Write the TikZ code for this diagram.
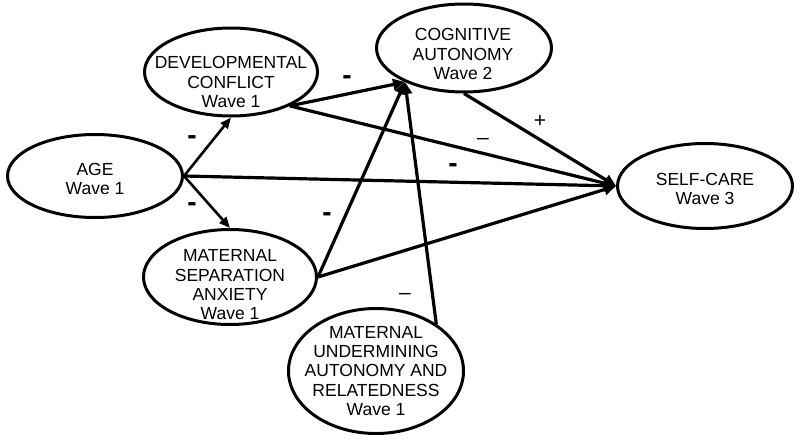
\documentclass[tikz,border=0pt]{standalone}
\usepackage{fontspec}
\setmainfont{Liberation Sans}
\usetikzlibrary{arrows.meta,shapes.geometric}
\begin{document}
\begin{tikzpicture}[x=1pt,y=-1pt,
  blob/.style={ellipse,draw,line width=3pt,inner sep=0pt},
  txt/.style={align=center,font=\fontsize{17.5}{19.3}\selectfont,inner sep=0pt},
  link/.style={line width=3.2pt,-{Triangle[length=12pt,width=11pt]}},
  thinlink/.style={line width=2.6pt,-{Triangle[length=11pt,width=9pt]}},
  bolddash/.style={font=\fontsize{28}{28}\selectfont\bfseries,inner sep=0pt},
  sign/.style={font=\fontsize{21}{21}\selectfont,inner sep=0pt}]
\path[use as bounding box] (0,0) rectangle (800,442);
% ellipses
\node[blob,minimum width=173pt,minimum height=88pt] (dev) at (231,72) {};
\node[blob,minimum width=175pt,minimum height=88pt] (cog) at (464,48) {};
\node[blob,minimum width=175pt,minimum height=83pt] (age) at (95,176) {};
\node[blob,minimum width=175pt,minimum height=85pt] (self) at (705,186) {};
\node[blob,minimum width=173pt,minimum height=95pt] (msa) at (230,277) {};
\node[blob,minimum width=175pt,minimum height=125pt] (muar) at (376,371) {};
% texts
\node[txt] (devt) at (231,82) {DEVELOPMENTAL\\CONFLICT\\Wave 1};
\node[txt] (cogt) at (463,54) {COGNITIVE\\AUTONOMY\\Wave 2};
\node[txt] (aget) at (95,179) {AGE\\Wave 1};
\node[txt] (selft) at (705,189) {SELF-CARE\\Wave 3};
\node[txt] (msat) at (230,285) {MATERNAL\\SEPARATION\\ANXIETY\\Wave 1};
\node[txt] (muart) at (376,371) {MATERNAL\\UNDERMINING\\AUTONOMY AND\\RELATEDNESS\\Wave 1};
% connectors
\draw[thinlink] (age.east) -- (dev.south);
\draw[thinlink] (age.east) -- (msa.north);
\draw[link] (age.east) -- (self.west);
\draw[link] (dev.-30) -- (cog.210);
\draw[link] (dev.-30) -- (self.west);
\draw[link] (cog.south) -- (self.west);
\draw[link] (msa.0) -- (cog.210);
\draw[link] (msa.0) -- (self.west);
\draw[link] (muar.38) -- (cog.210);
% signs
\node[bolddash] (s1) at (192,140) {-};
\node[bolddash] (s2) at (192,207) {-};
\node[bolddash] (s3) at (347,80) {-};
\node[bolddash] (s4) at (327,217) {-};
\node[bolddash] (s5) at (453,168) {-};
\node[sign] (s6) at (483,141) {–};
\node[sign] (s7) at (405,296) {–};
\node[sign] (s8) at (540,121) {+};
\end{tikzpicture}
\end{document}
